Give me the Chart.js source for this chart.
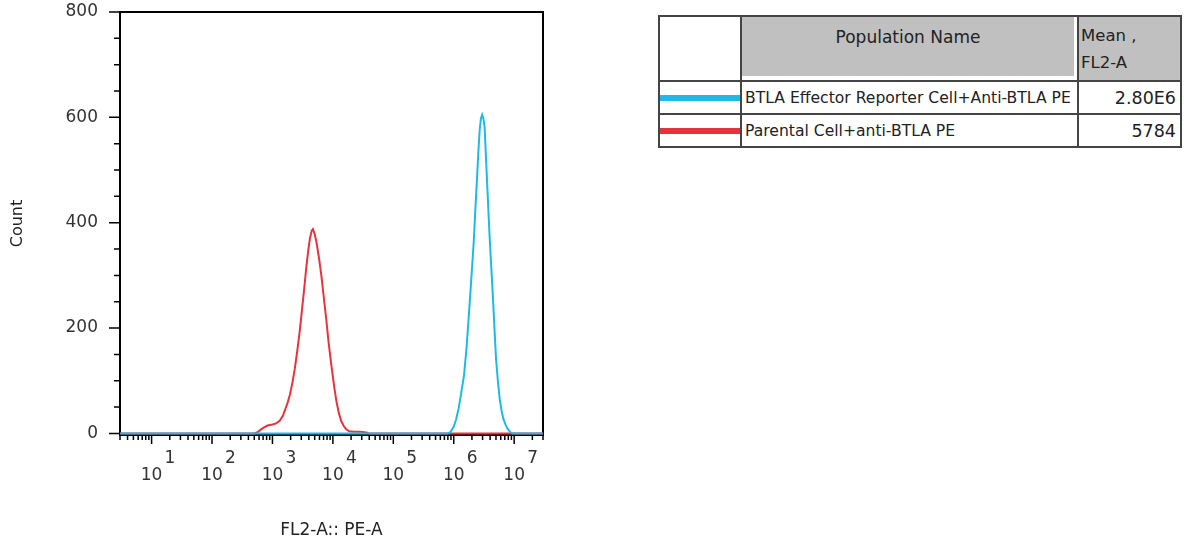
<!DOCTYPE html>
<html>
<head>
<meta charset="utf-8">
<script src="https://cdn.jsdelivr.net/npm/chart.js@4.4.0/dist/chart.umd.min.js"></script>
<style>
  body { margin: 0; background: #fff; width: 1184px; height: 542px; overflow: hidden; position: relative; font-family: 'DejaVu Sans', sans-serif; }
  #plot { position: absolute; left: 0; top: 0; width: 600px; height: 542px; }
  #legend { position: absolute; left: 658px; top: 15px; border-collapse: collapse; table-layout: fixed; color: #222; }
  #legend td { border: 2px solid #444; padding: 0; }
  #legend tr.head { height: 65px; }
  #legend tr.head td { vertical-align: top; }
  #legend tr.row { height: 33px; }
  #legend td.pop { padding: 0 3px 3px 0; }
  #legend td.pop div { background: #c0c0c0; font-size: 17px; text-align: center; padding-top: 10px; box-sizing: border-box; height: 59px; }
  #legend td.mean { background: #c0c0c0; font-size: 16.5px; line-height: 27px; padding: 5px 0 0 2px; }
  #legend td.swatch div { height: 6px; }
  #legend td.name { font-size: 15.6px; padding-left: 3px; white-space: nowrap; }
  #legend td.val { font-size: 17.5px; text-align: right; padding-right: 4px; }
</style>
</head>
<body>
<div id="plot"><canvas id="chart"></canvas></div>
<table id="legend">
  <colgroup><col style="width:82px"><col style="width:337px"><col style="width:103px"></colgroup>
  <tbody id="legendBody">
    <tr class="head"><td></td><td class="pop"><div>Population Name</div></td><td class="mean">Mean ,<br>FL2-A</td></tr>
  </tbody>
</table>
<script>
const decadeExponents = [1, 2, 3, 4, 5, 6, 7];
const yLabelValues = [0, 200, 400, 600, 800];

const seriesNames = ['BTLA Effector Reporter Cell+Anti-BTLA PE', 'Parental Cell+anti-BTLA PE'];
const seriesMeans = ['2.80E6', '5784'];
const seriesColors = ['#1fb9e6', '#e6343f'];

// log10(FL2-A) position and count
const effectorLogFL2 = [0.48, 5.90, 5.95, 6.00, 6.04, 6.08, 6.12, 6.17, 6.21, 6.25, 6.29, 6.33, 6.36, 6.39, 6.41, 6.43, 6.45, 6.47, 6.49, 6.51, 6.54, 6.565, 6.59, 6.62, 6.65, 6.675, 6.70, 6.73, 6.76, 6.79, 6.82, 6.855, 6.89, 6.93, 6.97, 7.475];
const effectorCount = [0, 0, 3, 13, 27, 47, 74, 110, 160, 224, 292, 362, 430, 495, 540, 577, 598, 605, 598, 583, 507, 445, 382, 318, 255, 197, 142, 100, 66, 44, 28, 17, 9, 3, 0, 0];

const parentalLogFL2 = [0.48, 2.70, 2.76, 2.84, 2.92, 3.00, 3.06, 3.12, 3.17, 3.21, 3.25, 3.29, 3.33, 3.37, 3.41, 3.45, 3.49, 3.53, 3.56, 3.59, 3.62, 3.65, 3.67, 3.70, 3.73, 3.77, 3.81, 3.85, 3.89, 3.93, 3.975, 4.02, 4.06, 4.10, 4.14, 4.18, 4.22, 4.27, 4.35, 4.45, 4.55, 4.60, 7.475];
const parentalCount = [0, 0, 3, 10, 15, 17, 19, 24, 33, 45, 58, 74, 96, 123, 156, 193, 236, 280, 315, 345, 370, 385, 388, 378, 362, 333, 299, 258, 217, 172, 129, 90, 60, 38, 23, 14, 8, 4, 3, 3, 2, 0, 0];

const FONT = 'DejaVu Sans';
Chart.defaults.font.family = FONT;
Chart.defaults.color = '#333';

function toPoints(logs, counts) {
  return logs.map((e, i) => ({ x: Math.pow(10, e), y: counts[i] }));
}

function isDecade(v) {
  const l = Math.log10(v);
  return Math.abs(l - Math.round(l)) < 1e-9;
}

const frameAndTicks = {
  id: 'frameAndTicks',
  beforeDatasetsDraw(chart) {
    const { ctx, chartArea: a, scales: { x, y } } = chart;
    ctx.save();
    ctx.strokeStyle = '#000';
    ctx.lineWidth = 2;
    ctx.strokeRect(a.left, a.top, a.right - a.left, a.bottom - a.top);
    ctx.beginPath();
    x.ticks.forEach((t) => {
      const px = x.getPixelForValue(t.value);
      const len = isDecade(t.value) ? 9 : 5;
      ctx.moveTo(px, a.bottom);
      ctx.lineTo(px, a.bottom + len);
    });
    y.ticks.forEach((t) => {
      const py = y.getPixelForValue(t.value);
      const len = yLabelValues.includes(t.value) ? 11 : 6;
      ctx.moveTo(a.left - len, py);
      ctx.lineTo(a.left, py);
    });
    ctx.lineWidth = 1.5;
    ctx.stroke();

    ctx.fillStyle = '#333';
    ctx.font = '17px "' + FONT + '"';
    ctx.textAlign = 'left';
    ctx.textBaseline = 'middle';
    decadeExponents.forEach((e) => {
      const px = x.getPixelForValue(Math.pow(10, e));
      ctx.fillText(String(e), px + 13, a.bottom + 24);
    });
    ctx.restore();
  }
};

new Chart(document.getElementById('chart'), {
  type: 'line',
  data: {
    datasets: [
      {
        label: seriesNames[0],
        data: toPoints(effectorLogFL2, effectorCount),
        borderColor: seriesColors[0],
        borderWidth: 2,
        pointRadius: 0,
        tension: 0,
        order: 0
      },
      {
        label: seriesNames[1],
        data: toPoints(parentalLogFL2, parentalCount),
        borderColor: seriesColors[1],
        borderWidth: 2,
        pointRadius: 0,
        tension: 0,
        order: 1
      }
    ]
  },
  options: {
    responsive: true,
    maintainAspectRatio: false,
    animation: false,
    layout: { padding: { top: 12, right: 57, left: 0, bottom: 0 } },
    plugins: { legend: { display: false }, tooltip: { enabled: false } },
    scales: {
      x: {
        type: 'logarithmic',
        min: 3,
        max: 3e7,
        afterBuildTicks(scale) {
          const ticks = [];
          for (let d = 0; d <= 7; d++) {
            for (let m = 1; m <= 9; m++) {
              const v = m * Math.pow(10, d);
              if (v >= 3 && v <= 3e7) ticks.push({ value: v });
            }
          }
          scale.ticks = ticks;
        },
        afterFit(scale) {
          scale.height = 107;
          scale.paddingLeft = 0;
          scale.paddingRight = 0;
        },
        grid: { display: false, drawTicks: false },
        border: { display: false },
        ticks: {
          autoSkip: false,
          maxRotation: 0,
          padding: 30,
          color: '#333',
          font: { size: 17 },
          callback: (value) => (isDecade(value) && decadeExponents.includes(Math.round(Math.log10(value))) ? '10' : '')
        },
        title: { display: true, text: 'FL2-A:: PE-A', color: '#222', font: { size: 17 }, padding: { top: 0, bottom: 1 } }
      },
      y: {
        min: -3,
        max: 800,
        afterBuildTicks(scale) {
          const ticks = [];
          for (let v = 0; v <= 800; v += 50) ticks.push({ value: v });
          scale.ticks = ticks;
        },
        afterFit(scale) {
          scale.width = 120;
          scale.paddingTop = 0;
          scale.paddingBottom = 0;
        },
        grid: { display: false, drawTicks: false },
        border: { display: false },
        ticks: {
          autoSkip: false,
          padding: 22,
          color: '#333',
          font: { size: 17 },
          callback: (value) => (yLabelValues.includes(value) ? String(value) : '')
        },
        title: { display: true, text: 'Count', color: '#222', font: { size: 16 }, padding: { top: 8, bottom: 0 } }
      }
    }
  },
  plugins: [frameAndTicks]
});

const body = document.getElementById('legendBody');
seriesNames.forEach((name, i) => {
  const tr = document.createElement('tr');
  tr.className = 'row';
  tr.innerHTML = '<td class="swatch"><div style="background:' + seriesColors[i] + '"></div></td>' +
    '<td class="name">' + name + '</td><td class="val">' + seriesMeans[i] + '</td>';
  body.appendChild(tr);
});
</script>
</body>
</html>
